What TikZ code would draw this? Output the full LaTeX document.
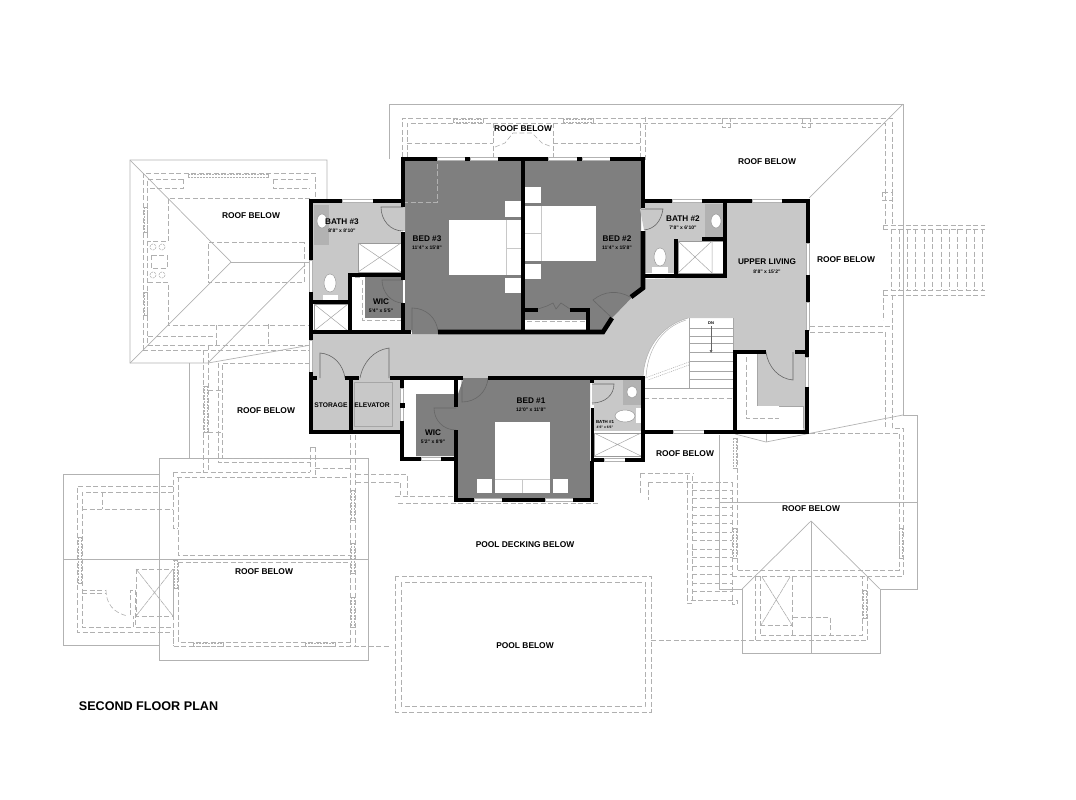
\documentclass[tikz,border=0pt]{standalone}
\usepackage{fontspec}
\setmainfont{Liberation Sans}
\usepackage{xcolor}
\definecolor{roomlight}{HTML}{C8C8C8}
\definecolor{roomdark}{HTML}{7F7F7F}
\definecolor{fixgray}{HTML}{B2B2B2}
\tikzset{
	wall/.style={black,line width=4.6pt},
	thinwall/.style={black,line width=3pt},
	roofline/.style={gray!60,line width=0.7pt},
	hidden/.style={gray!62,line width=0.6pt,dash pattern=on 5pt off 2.5pt},
	doorline/.style={gray!80!black,line width=0.6pt},
	fixture/.style={draw=gray!80,fill=white,line width=0.5pt},
	glazing/.style={draw=gray!60,fill=white,line width=0.5pt},
	textmark/.style={inner sep=0pt,yshift=-1pt},
	rooflabel/.style={textmark,font=\bfseries\fontsize{8.4}{9}\selectfont},
	roomlabel/.style={textmark,font=\bfseries\fontsize{8.2}{9}\selectfont},
	roomsize/.style={textmark,font=\bfseries\fontsize{5}{6}\selectfont}
}
\newcommand{\vpost}[3]{
	\draw[hidden] (#1-2.5,#2) -- (#1+2.5,#2) (#1-2.5,#3) -- (#1+2.5,#3);
	\draw[hidden,dash pattern=on 2pt off 1pt] (#1-1.5,#2) -- (#1-1.5,#3) (#1+1.5,#2) -- (#1+1.5,#3);
}
\newcommand{\hpost}[3]{
	\draw[hidden] (#2,#1-2.5) -- (#2,#1+2.5) (#3,#1-2.5) -- (#3,#1+2.5);
	\draw[hidden,dash pattern=on 2pt off 1pt] (#2,#1-1.5) -- (#3,#1-1.5) (#2,#1+1.5) -- (#3,#1+1.5);
}
\begin{document}
\begin{tikzpicture}[x=1pt,y=-1pt]
	\useasboundingbox (0,0) rectangle (1076,800);

	\draw[roofline] (389,159) -- (389,104) -- (903,104) -- (903,415) -- (917,415) -- (917,589) -- (880,589) -- (880,653) -- (742,653) -- (742,589) -- (719,589) -- (719,435);
	\draw[roofline] (903,104) -- (809,198);
	\draw[roofline] (735,434) -- (766,442) -- (903,415);
	\draw[roofline] (766,432) -- (766,442);
	\draw[roofline] (719,502) -- (917,502);
	\draw[roofline] (742,589) -- (811,521) -- (880,589);
	\draw[roofline] (811,521) -- (811,653);
	\draw[roofline] (327,201) -- (327,160) -- (130,160) -- (130,363) -- (208,363) -- (311,345);
	\draw[roofline] (130,160) -- (231,262) -- (130,363);
	\draw[roofline] (231,262) -- (311,262);
	\draw[roofline] (208,363) -- (305,265);
	\draw[roofline] (189,363) -- (189,458);
	\draw[roofline] (159,474) -- (63,474) -- (63,645) -- (159,645);
	\draw[roofline] (159,458) rectangle (368,660);
	\draw[roofline] (63,559) -- (368,559);

	\draw[hidden] (402,157) -- (402,118) -- (892,118) -- (892,225);
	\draw[hidden] (407,157) -- (407,123) -- (885,123) -- (885,225);
	\draw[hidden] (407,143) -- (493,143);
	\draw[hidden] (553,143) -- (640,143);
	\draw[hidden] (493,123) -- (493,157);
	\draw[hidden] (553,123) -- (553,157);
	\draw[hidden] (640,123) -- (640,157);
	\draw[hidden] (645,117) -- (645,160);
	\draw[hidden] (495,147) -- (505,143) -- (513,133) -- (532,133) -- (542,143) -- (552,147);
	\hpost{120.5}{453}{483}
	\hpost{120.5}{563}{593}
	\draw[hidden] (722,118) rectangle (730,127);
	\draw[hidden] (802,118) rectangle (810,127);
	\draw[hidden] (882,192) rectangle (892,200);

	\draw[hidden] (883,225) -- (985,225);
	\draw[hidden] (883,229) -- (985,229);
	\draw[hidden] (883,290) -- (985,290);
	\draw[hidden] (883,295) -- (985,295);
	\draw[hidden] (883,225) -- (883,229);
	\draw[hidden] (883,290) -- (883,320);
	\foreach \xpos in {891,899,907,915,924,932,941,949,957,966,974,982}{
		\draw[hidden] (\xpos,229) -- (\xpos,290);
	}
	\draw[hidden] (892,295) -- (892,428);
	\draw[hidden] (885,332) -- (885,428);
	\draw[hidden] (810,326) -- (892,326);
	\draw[hidden] (810,332) -- (885,332);

	\draw[hidden] (143,350) -- (143,173) -- (315,173) -- (315,198);
	\draw[hidden] (143,350) -- (311,350);
	\draw[hidden] (183,179) -- (147,179) -- (147,345) -- (308,345);
	\draw[hidden] (183,179) -- (183,188) -- (148,188);
	\draw[hidden] (273,179) -- (310,179);
	\draw[hidden] (273,179) -- (273,188) -- (310,188);
	\draw[hidden] (310,198) -- (168,198) -- (168,241) -- (148,241);
	\draw[hidden] (148,282) -- (168,282) -- (168,325) -- (310,325);
	\draw[hidden] (148,336) -- (216,336);
	\draw[hidden] (216,325) -- (216,345);
	\draw[hidden] (268,324) -- (268,345);
	\draw[hidden] (304,242) -- (208,242) -- (208,282) -- (304,282) -- cycle;
	\draw[hidden] (151,255) rectangle (167,268);
	\foreach \xpos/\ypos in {153/247,162/247,153/275,162/275}{
		\draw[hidden,dash pattern=on 2pt off 1pt] (\xpos,\ypos) circle (3);
	}
	\hpost{175.5}{188}{268}
	\vpost{145.5}{207}{232}
	\vpost{145.5}{292}{315}

	\draw[hidden] (203,350) -- (203,472);
	\draw[hidden] (208,345) -- (208,472);
	\draw[hidden] (208,390) -- (222,390);
	\draw[hidden] (208,432) -- (222,432);
	\draw[hidden] (310,363) -- (222,363) -- (222,458) -- (310,458);
	\draw[hidden] (218,363) -- (218,462) -- (310,462);
	\draw[hidden] (310,447) -- (310,472);
	\draw[hidden] (315,447) -- (315,477);
	\draw[hidden] (310,447) -- (315,447);
	\draw[hidden] (173,472) -- (310,472);
	\draw[hidden] (177,477) -- (348,477);
	\draw[hidden] (315,468) -- (350,468);
	\draw[hidden] (350,435) -- (350,646);
	\draw[hidden] (355,435) -- (355,646);
	\draw[hidden] (356,474) -- (407,474) -- (407,495);
	\draw[hidden] (356,482) -- (400,482) -- (400,495);
	\vpost{205.5}{386}{432}

	\draw[hidden] (173,486) -- (77,486) -- (77,632) -- (173,632) -- (173,646) -- (390,646);
	\draw[hidden] (173,492) -- (82,492) -- (82,627) -- (133,627) -- (133,616);
	\draw[hidden] (136,627) -- (173,627);
	\draw[hidden] (82,509) -- (173,509);
	\draw[hidden] (102,492) -- (102,509);
	\draw[hidden] (173,472) -- (173,528) -- (178,528);
	\draw[hidden] (178,477) -- (178,555) -- (350,555);
	\draw[hidden] (178,562) -- (350,562);
	\draw[hidden] (178,562) -- (178,642) -- (350,642);
	\draw[hidden] (173,570) -- (173,646);
	\draw[hidden] (136,569) rectangle (173,616);
	\draw[hidden,dash pattern=on 6pt off 0.7pt] (136,569) -- (173,616) (136,616) -- (173,569);
	\draw[hidden] (82,590) -- (106,590);
	\draw[hidden] (82,593) -- (106,593);
	\draw[hidden] (106,590) .. controls (106,603) and (113,613) .. (128,616);
	\draw[hidden] (130,615) -- (130,590) -- (135,590) -- (135,627);
	\vpost{80}{537}{583}
	\vpost{175.5}{560}{588}
	\vpost{352.5}{490}{520}
	\vpost{352.5}{543}{573}
	\vpost{352.5}{597}{627}
	\hpost{644.5}{193}{223}
	\hpost{644.5}{305}{335}

	\draw[hidden] (395,576) rectangle (651,712);
	\draw[hidden] (401,582) rectangle (645,706);
	\draw[hidden] (651,640) -- (867,640);

	\draw[hidden] (398,503) -- (600,503);
	\draw[hidden] (395,496) -- (456,496);
	\draw[hidden] (640,473) -- (693,473);
	\draw[hidden] (648,482) -- (732,482);
	\draw[hidden] (640,473) -- (640,495);
	\draw[hidden] (648,482) -- (648,500);
	\draw[hidden] (687,475) -- (687,603) -- (692,603) -- (692,475);
	\draw[hidden] (732,482) -- (732,604) -- (737,604) -- (737,600) -- (687,600);
	\foreach \ypos in {490,498,507,515,523,532,540,549,557,566,574,583,591}{
		\draw[hidden] (692,\ypos) -- (732,\ypos);
	}

	\draw[hidden] (737,570) -- (737,433) -- (899,433) -- (899,570) -- cycle;
	\draw[hidden] (732,576) -- (903,576) -- (903,428) -- (892,428);
	\draw[hidden] (755,576) -- (755,640);
	\draw[hidden] (760,576) -- (760,635) -- (862,635) -- (862,576);
	\draw[hidden] (867,576) -- (867,640);
	\draw[hidden] (792,577) -- (792,635);
	\draw[hidden] (760,625) -- (792,625);
	\draw[hidden,dash pattern=on 6pt off 0.7pt] (762,577) -- (792,625) (790,577) -- (761,625);
	\draw[hidden] (793,617) -- (830,617) -- (830,635);
	\vpost{735}{438}{468}
	\vpost{735}{528}{558}
	\vpost{901}{528}{558}
	\vpost{864.5}{590}{618}

	\fill[roomlight] (313,334) -- (603,334) .. controls (616,310) and (628,294) .. (645,279) -- (725,277) -- (725,203) -- (806,203) -- (806,352) -- (733,352) -- (733,318) -- (688,318) .. controls (660,326) and (644,350) .. (643,378) -- (313,378) -- cycle;
	\fill[roomlight] (313,378) rectangle (349,430);
	\fill[roomlight] (353,378) rectangle (400,430);
	\fill[roomlight] (313,203) -- (401,203) -- (401,273) -- (348,273) -- (348,302) -- (313,302) -- cycle;
	\fill[roomlight] (645,203) rectangle (723,273);
	\fill[roomlight] (594,380) rectangle (641,431);
	\fill[roomlight] (757,352) -- (805,352) -- (805,430) -- (803,430) -- (803,406) -- (757,406) -- cycle;

	\fill[roomdark] (405,161) -- (641,161) -- (641,288) -- (612,318) -- (603,330) -- (438,330) -- (438,334) -- (412,334) -- (412,330) -- (405,330) -- cycle;
	\fill[roomdark] (365,277) rectangle (403,318);
	\fill[roomdark] (463,378) -- (488,378) -- (488,380) -- (590,380) -- (590,498) -- (458,498) -- (458,456) -- (416,456) -- (416,394) -- (458,394) -- (463,380) -- cycle;
	\fill[white] (525,320) rectangle (586,330);
	\fill[white] (353,277) rectangle (365,330);
	\fill[white] (353,320) rectangle (401,330);

	\fill[roomlight] (381,207) .. controls (381,220) and (390,231) .. (405,231) -- (405,207) -- cycle;
	\fill[roomlight] (640,209) -- (663,209) .. controls (661,222) and (654,229) .. (644,230) -- cycle;
	\fill[roomlight] (592,405) .. controls (605,405) and (614,396) .. (614,384) -- (592,384) -- cycle;

	\draw[doorline] (403,207) -- (381,207) .. controls (381,220) and (390,231) .. (403,231);
	\draw[doorline] (403,280) -- (382,280) .. controls (382,292) and (391,303) .. (403,303);
	\draw[doorline] (412,332) -- (412,308) .. controls (426,308) and (437,318) .. (438,332);
	\draw[doorline] (641,209) -- (663,209) .. controls (661,222) and (654,229) .. (644,230);
	\draw[doorline] (612,318) -- (593,300) .. controls (604,291) and (618,290) .. (630,297);
	\draw[doorline] (320,378) -- (320,353) .. controls (333,354) and (343,364) .. (345,378);
	\draw[doorline] (389,378) -- (389,348) .. controls (374,350) and (363,362) .. (360,378);
	\draw[doorline] (462,378) -- (462,402) .. controls (476,402) and (487,392) .. (488,378);
	\draw[doorline] (456,408) -- (434,408) .. controls (434,420) and (443,430) .. (456,430);
	\draw[doorline] (592,403) .. controls (605,403) and (614,395) .. (614,384) -- (592,384);
	\draw[doorline] (793,352) -- (793,380) .. controls (779,379) and (768,367) .. (766,352);
	\draw[doorline] (538,309) -- (547,306) -- (553,303) -- (556,309) -- (561,303) -- (570,309);

	\draw[gray!60,line width=0.5pt] (688,318) .. controls (660,326) and (644,350) .. (643,378);
	\draw[gray!60,line width=0.5pt] (686,320) .. controls (660,328) and (647,352) .. (646,378);
	\foreach \ypos in {328,336,343,352,361,371,379}{
		\draw[gray!70,line width=0.6pt] (689,\ypos) -- (733,\ypos);
	}
	\draw[gray!70,line width=0.6pt] (689,318) -- (689,388);
	\draw[gray!70,line width=0.6pt] (644,388) -- (733,388);
	\draw[gray!70,line width=0.6pt] (733,318) -- (733,352);
	\draw[gray!60,line width=0.6pt,dash pattern=on 1pt off 1pt] (689,362) -- (645,378);
	\draw[gray!60,line width=0.6pt,dash pattern=on 1pt off 1pt] (689,365) -- (648,380);
	\draw[hidden] (644,398) -- (733,398);
	\draw[gray!80!black,line width=0.4pt] (711,326) -- (711,352);
	\fill[gray!80!black] (709.5,350) -- (712.5,350) -- (711,353) -- cycle;
	\node[inner sep=0pt,font=\bfseries\fontsize{4}{4}\selectfont] (dnmark) at (711,323) {DN};

	\draw[hidden,gray!60] (403,202) -- (437,202) -- (437,159);
	\draw[hidden,gray!60] (355,277) -- (362,277) (362,280) -- (362,320) -- (403,320);
	\draw[hidden,gray!60] (527,321) -- (586,321);

	\draw[fixture] (358,243) rectangle (401,272);
	\draw[gray!70,line width=0.5pt] (358,243) -- (401,272) (358,272) -- (401,243);
	\draw[fixture] (314,304) rectangle (348,331);
	\draw[gray!70,line width=0.5pt] (314,304) -- (348,331) (314,331) -- (348,304);
	\draw[fixture] (678,241) rectangle (723,273);
	\draw[gray!70,line width=0.5pt] (678,241) -- (712,273) (678,273) -- (712,241) (712,241) -- (712,273);
	\draw[fixture] (594,433) rectangle (641,456);
	\draw[gray!70,line width=0.5pt] (594,433) -- (641,456) (594,456) -- (641,433);

	\fill[fixgray] (314,205) rectangle (329,245);
	\fill[fixgray] (705,204) rectangle (723,238);
	\fill[fixgray] (623,380) rectangle (642,405);
	\draw[fixture] (322,221) ellipse (5 and 7);
	\draw[fixture] (716,221) ellipse (5 and 7);
	\draw[fixture] (632,392) ellipse (5 and 6);
	\draw[fixture] (330,283) ellipse (6 and 9);
	\fill[white] (323,295) rectangle (338,300);
	\draw[fixture] (660,257) ellipse (6 and 9);
	\fill[white] (652,267) rectangle (668,273);
	\draw[fixture] (625,416) ellipse (10 and 6);
	\fill[white] (636,408) rectangle (642,423);

	\fill[white] (449,220) rectangle (522,275);
	\draw[roomlight,line width=0.6pt] (506,220) -- (506,275) (506,248) -- (522,248);
	\fill[white] (505,201) rectangle (521,217);
	\fill[white] (505,278) rectangle (521,293);
	\fill[white] (525,206) rectangle (596,261);
	\draw[roomlight,line width=0.6pt] (541,206) -- (541,261) (525,233) -- (541,233);
	\fill[white] (525,187) rectangle (541,203);
	\fill[white] (525,264) rectangle (541,279);
	\fill[white] (495,422) rectangle (550,493);
	\draw[roomlight,line width=0.6pt] (495,479) -- (550,479) (522,479) -- (522,493);
	\fill[white] (477,479) rectangle (492,493);
	\fill[white] (553,479) rectangle (568,493);

	\draw[draw=gray!70,fill=roomlight,line width=0.6pt] (354,382) rectangle (392,426);
	\fill[white] (779,406) rectangle (803,428);
	\draw[gray!70,line width=0.5pt] (757,406) -- (803,406) -- (803,428);
	\fill[white] (737,354) rectangle (757,430);
	\fill[white] (737,406) rectangle (779,430);
	\draw[hidden] (746,357) -- (746,418) -- (779,418);
	\draw[gray!70,line width=0.5pt] (757,352) -- (757,406);

	\draw[glazing] (342,199.5) rectangle (373,202.5);
	\draw[glazing] (437,157.5) rectangle (465,160.5);
	\draw[glazing] (470,157.5) rectangle (498,160.5);
	\draw[glazing] (548,157.5) rectangle (577,160.5);
	\draw[glazing] (582,157.5) rectangle (610,160.5);
	\draw[glazing] (672,199.5) rectangle (702,202.5);
	\draw[glazing] (752,199.5) rectangle (782,202.5);
	\draw[glazing] (806.5,243) rectangle (809.5,275);
	\draw[glazing] (806.5,302) rectangle (809.5,330);
	\draw[glazing] (805.5,357) rectangle (808.5,387);
	\draw[glazing] (309.5,260) rectangle (312.5,292);
	\draw[glazing] (309.5,340) rectangle (312.5,372);
	\draw[glazing] (400.5,388) rectangle (403.5,421);
	\draw[glazing] (421,457.5) rectangle (441,460.5);
	\draw[glazing] (474,498.5) rectangle (502,501.5);
	\draw[glazing] (545,498.5) rectangle (573,501.5);
	\draw[glazing] (604,458.5) rectangle (625,461.5);
	\draw[glazing] (673,430.5) rectangle (704,433.5);

	\draw[wall] (311,260) -- (311,201) -- (342,201);
	\draw[wall] (373,201) -- (403,201);
	\draw[wall] (311,292) -- (311,340);
	\draw[wall] (311,302) -- (350,302);
	\draw[wall] (350,332) -- (350,275) -- (403,275);
	\draw[wall] (403,207) -- (403,159) -- (437,159);
	\draw[wall] (403,232) -- (403,280);
	\draw[wall] (403,303) -- (403,334.3);
	\draw[wall] (311,332) -- (411,332);
	\draw[wall] (438,332) -- (603,332) -- (612,318);
	\draw[wall] (498,159) -- (548,159);
	\draw[wall] (610,159) -- (643,159) -- (643,208);
	\draw[wall] (643,231) -- (643,288) -- (631,297);
	\draw[wall] (523,159) -- (523,332);
	\draw[wall] (523,310) -- (538,310);
	\draw[wall] (570,310) -- (588,310) -- (588,332);
	\fill[black] (465,156.7) rectangle (470,161.3);
	\fill[black] (577,156.7) rectangle (582,161.3);
	\draw[wall] (643,201) -- (672,201);
	\draw[wall] (702,201) -- (752,201);
	\draw[wall] (782,201) -- (808,201) -- (808,243);
	\draw[wall] (808,275) -- (808,302);
	\draw[wall] (807,330) -- (807,357);
	\draw[wall] (807,387) -- (807,432) -- (704,432);
	\draw[wall] (725,201) -- (725,276) -- (643,276);
	\draw[wall] (676,239) -- (676,275);
	\draw[wall] (702,239) -- (725,239);

	\draw[wall] (311,372) -- (311,432) -- (402,432) -- (402,421);
	\draw[wall] (311,378) -- (317,378);
	\draw[wall] (345,378) -- (359,378);
	\draw[wall] (351,378) -- (351,432);
	\draw[wall] (402,378) -- (402,388);
	\fill[black] (400,403) rectangle (405,408);
	\draw[wall] (402,421) -- (402,459) -- (421,459);
	\draw[wall] (441,459) -- (456,459);
	\draw[wall] (390,378) -- (463,378);
	\draw[wall] (488,378) -- (643,378) -- (643,460) -- (625,460);
	\draw[wall] (456,378) -- (456,407);
	\draw[wall] (456,430) -- (456,500) -- (474,500);
	\draw[wall] (502,500) -- (545,500);
	\draw[wall] (573,500) -- (592,500) -- (592,461);
	\draw[thinwall] (592,408) -- (592,461);
	\draw[wall] (592,378) -- (592,383);
	\draw[wall] (592,460) -- (604,460);
	\draw[wall] (643,432) -- (673,432);
	\draw[wall] (735,432) -- (735,352) -- (766,352);
	\draw[wall] (795,352) -- (807,352);

	\node[rooflabel] (roofwest) at (251,215) {ROOF BELOW};
	\node[rooflabel] (roofnorth) at (523,128) {ROOF BELOW};
	\node[rooflabel] (roofnortheast) at (767,161) {ROOF BELOW};
	\node[rooflabel] (roofeast) at (846,259) {ROOF BELOW};
	\node[rooflabel] (roofcourt) at (266,410) {ROOF BELOW};
	\node[rooflabel] (roofsouth) at (685,453) {ROOF BELOW};
	\node[rooflabel] (roofgable) at (811,508) {ROOF BELOW};
	\node[rooflabel] (roofgarage) at (264,571) {ROOF BELOW};
	\node[rooflabel] (deckbelow) at (525,544) {POOL DECKING BELOW};
	\node[rooflabel] (poolbelow) at (525,645) {POOL BELOW};

	\node[roomlabel] (bathc) at (342,221) {BATH \#3};
	\node[roomsize] (bathcsize) at (342,230) {8'8" x 8'10"};
	\node[roomlabel] (bedc) at (427,238) {BED \#3};
	\node[roomsize] (bedcsize) at (427,247) {11'4" x 15'8"};
	\node[roomlabel] (wicc) at (381,301) {WIC};
	\node[roomsize] (wiccsize) at (381,310) {5'4" x 5'5"};
	\node[roomlabel] (bedb) at (617,238) {BED \#2};
	\node[roomsize] (bedbsize) at (617,247) {11'4" x 15'8"};
	\node[roomlabel] (bathb) at (683,218) {BATH \#2};
	\node[roomsize] (bathbsize) at (683,227) {7'8" x 6'10"};
	\node[roomlabel] (living) at (767,261) {UPPER LIVING};
	\node[roomsize] (livingsize) at (767,271) {8'8" x 15'2"};
	\node[roomlabel] (beda) at (531,400) {BED \#1};
	\node[roomsize] (bedasize) at (531,409) {12'0" x 11'8"};
	\node[roomlabel] (wica) at (433,432) {WIC};
	\node[roomsize] (wicasize) at (433,441) {5'2" x 8'9"};
	\node[textmark,font=\bfseries\fontsize{4.4}{5}\selectfont] (batha) at (605,421) {BATH \#1};
	\node[textmark,font=\bfseries\fontsize{3.4}{4}\selectfont] (bathasize) at (605,426) {4'6" x 6'6"};
	\node[textmark,font=\bfseries\fontsize{6.7}{8}\selectfont] (storage) at (331,404) {STORAGE};
	\node[textmark,font=\bfseries\fontsize{6.7}{8}\selectfont] (elevator) at (372,404) {ELEVATOR};
	\node[textmark,font=\bfseries\fontsize{12.6}{14}\selectfont] (plantitle) at (148.5,705) {SECOND FLOOR PLAN};
\end{tikzpicture}
\end{document}
